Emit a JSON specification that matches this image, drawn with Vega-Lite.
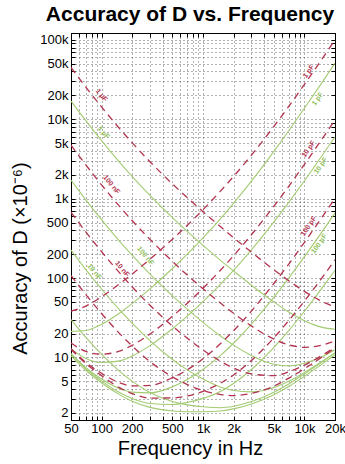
{
"$schema":"https://vega.github.io/schema/vega-lite/v6.json",
"width":264,"height":387,
"autosize":{"type":"none"},
"padding":{"left":71,"top":33,"right":10,"bottom":44},
"background":"white",
"title":{"text":"Accuracy of D vs. Frequency","fontSize":21,"font":"Liberation Sans","fontWeight":"bold","anchor":"middle","dx":-13,"offset":8,"color":"black"},
"datasets":{
"curves":[
{"c":"L1r","k":"r","f":50,"v":45000},{"c":"L1r","k":"r","f":70,"v":25400},{"c":"L1r","k":"r","f":100,"v":14300},{"c":"L1r","k":"r","f":150,"v":7670},{"c":"L1r","k":"r","f":200,"v":5070},{"c":"L1r","k":"r","f":300,"v":2920},{"c":"L1r","k":"r","f":500,"v":1530},{"c":"L1r","k":"r","f":700,"v":1030},{"c":"L1r","k":"r","f":1000,"v":685},{"c":"L1r","k":"r","f":1500,"v":439},{"c":"L1r","k":"r","f":2000,"v":323},{"c":"L1r","k":"r","f":3000,"v":212},{"c":"L1r","k":"r","f":5000,"v":127},{"c":"L1r","k":"r","f":7000,"v":92.7},{"c":"L1r","k":"r","f":10000,"v":67.9},{"c":"L1r","k":"r","f":15000,"v":50.5},{"c":"L1r","k":"r","f":20000,"v":43.3},
{"c":"L2r","k":"r","f":50,"v":4710},{"c":"L2r","k":"r","f":70,"v":2660},{"c":"L2r","k":"r","f":100,"v":1490},{"c":"L2r","k":"r","f":150,"v":804},{"c":"L2r","k":"r","f":200,"v":531},{"c":"L2r","k":"r","f":300,"v":307},{"c":"L2r","k":"r","f":500,"v":162},{"c":"L2r","k":"r","f":700,"v":109},{"c":"L2r","k":"r","f":1000,"v":73.5},{"c":"L2r","k":"r","f":1500,"v":48},{"c":"L2r","k":"r","f":2000,"v":36},{"c":"L2r","k":"r","f":3000,"v":24.9},{"c":"L2r","k":"r","f":5000,"v":17},{"c":"L2r","k":"r","f":7000,"v":14.4},{"c":"L2r","k":"r","f":10000,"v":13.4},{"c":"L2r","k":"r","f":15000,"v":14.3},{"c":"L2r","k":"r","f":20000,"v":16.2},
{"c":"L3r","k":"r","f":50,"v":673},{"c":"L3r","k":"r","f":70,"v":381},{"c":"L3r","k":"r","f":100,"v":215},{"c":"L3r","k":"r","f":150,"v":117},{"c":"L3r","k":"r","f":200,"v":77.6},{"c":"L3r","k":"r","f":300,"v":45.5},{"c":"L3r","k":"r","f":500,"v":24.9},{"c":"L3r","k":"r","f":700,"v":17.5},{"c":"L3r","k":"r","f":1000,"v":12.4},{"c":"L3r","k":"r","f":1500,"v":8.9},{"c":"L3r","k":"r","f":2000,"v":7.35},{"c":"L3r","k":"r","f":3000,"v":6.2},{"c":"L3r","k":"r","f":5000,"v":5.9},{"c":"L3r","k":"r","f":7000,"v":6.6},{"c":"L3r","k":"r","f":10000,"v":8.0},{"c":"L3r","k":"r","f":15000,"v":10.7},{"c":"L3r","k":"r","f":20000,"v":13.5},
{"c":"L4r","k":"r","f":50,"v":108},{"c":"L4r","k":"r","f":70,"v":61.9},{"c":"L4r","k":"r","f":100,"v":35.8},{"c":"L4r","k":"r","f":150,"v":20.1},{"c":"L4r","k":"r","f":200,"v":14},{"c":"L4r","k":"r","f":300,"v":8.86},{"c":"L4r","k":"r","f":500,"v":5.7},{"c":"L4r","k":"r","f":700,"v":4.55},{"c":"L4r","k":"r","f":1000,"v":3.83},{"c":"L4r","k":"r","f":1500,"v":3.41},{"c":"L4r","k":"r","f":2000,"v":3.31},{"c":"L4r","k":"r","f":3000,"v":3.53},{"c":"L4r","k":"r","f":5000,"v":4.36},{"c":"L4r","k":"r","f":7000,"v":5.48},{"c":"L4r","k":"r","f":10000,"v":7.22},{"c":"L4r","k":"r","f":15000,"v":10.2},{"c":"L4r","k":"r","f":20000,"v":13.2},
{"c":"R1r","k":"r","f":50,"v":38.2},{"c":"R1r","k":"r","f":70,"v":44.4},{"c":"R1r","k":"r","f":100,"v":58},{"c":"R1r","k":"r","f":150,"v":84.1},{"c":"R1r","k":"r","f":200,"v":112},{"c":"R1r","k":"r","f":300,"v":173},{"c":"R1r","k":"r","f":500,"v":309},{"c":"R1r","k":"r","f":700,"v":462},{"c":"R1r","k":"r","f":1000,"v":727},{"c":"R1r","k":"r","f":1500,"v":1260},{"c":"R1r","k":"r","f":2000,"v":1900},{"c":"R1r","k":"r","f":3000,"v":3530},{"c":"R1r","k":"r","f":5000,"v":8130},{"c":"R1r","k":"r","f":7000,"v":14500},{"c":"R1r","k":"r","f":10000,"v":27500},{"c":"R1r","k":"r","f":15000,"v":58100},{"c":"R1r","k":"r","f":20000,"v":100000},
{"c":"R2r","k":"r","f":50,"v":15.2},{"c":"R2r","k":"r","f":70,"v":11.9},{"c":"R2r","k":"r","f":100,"v":11.0},{"c":"R2r","k":"r","f":150,"v":12.0},{"c":"R2r","k":"r","f":200,"v":14.2},{"c":"R2r","k":"r","f":300,"v":19.7},{"c":"R2r","k":"r","f":500,"v":33},{"c":"R2r","k":"r","f":700,"v":48.2},{"c":"R2r","k":"r","f":1000,"v":74.4},{"c":"R2r","k":"r","f":1500,"v":127},{"c":"R2r","k":"r","f":2000,"v":191},{"c":"R2r","k":"r","f":3000,"v":351},{"c":"R2r","k":"r","f":5000,"v":804},{"c":"R2r","k":"r","f":7000,"v":1430},{"c":"R2r","k":"r","f":10000,"v":2710},{"c":"R2r","k":"r","f":15000,"v":5710},{"c":"R2r","k":"r","f":20000,"v":9810},
{"c":"R3r","k":"r","f":50,"v":12.9},{"c":"R3r","k":"r","f":70,"v":8.66},{"c":"R3r","k":"r","f":100,"v":6.32},{"c":"R3r","k":"r","f":150,"v":4.8},{"c":"R3r","k":"r","f":200,"v":4.39},{"c":"R3r","k":"r","f":300,"v":4.45},{"c":"R3r","k":"r","f":500,"v":5.56},{"c":"R3r","k":"r","f":700,"v":7},{"c":"R3r","k":"r","f":1000,"v":9.65},{"c":"R3r","k":"r","f":1500,"v":15.1},{"c":"R3r","k":"r","f":2000,"v":21.7},{"c":"R3r","k":"r","f":3000,"v":38.4},{"c":"R3r","k":"r","f":5000,"v":85.4},{"c":"R3r","k":"r","f":7000,"v":150},{"c":"R3r","k":"r","f":10000,"v":282},{"c":"R3r","k":"r","f":15000,"v":591},{"c":"R3r","k":"r","f":20000,"v":1010},
{"c":"R4r","k":"r","f":50,"v":12.7},{"c":"R4r","k":"r","f":70,"v":8.37},{"c":"R4r","k":"r","f":100,"v":5.9},{"c":"R4r","k":"r","f":150,"v":4.16},{"c":"R4r","k":"r","f":200,"v":3.51},{"c":"R4r","k":"r","f":300,"v":3.08},{"c":"R4r","k":"r","f":500,"v":3.09},{"c":"R4r","k":"r","f":700,"v":3.27},{"c":"R4r","k":"r","f":1000,"v":3.74},{"c":"R4r","k":"r","f":1500,"v":4.77},{"c":"R4r","k":"r","f":2000,"v":6.02},{"c":"R4r","k":"r","f":3000,"v":9.18},{"c":"R4r","k":"r","f":5000,"v":17.7},{"c":"R4r","k":"r","f":7000,"v":29.1},{"c":"R4r","k":"r","f":10000,"v":51.4},{"c":"R4r","k":"r","f":15000,"v":102},{"c":"R4r","k":"r","f":20000,"v":170},
{"c":"L1g","k":"g","f":50,"v":17000},{"c":"L1g","k":"g","f":70,"v":9600},{"c":"L1g","k":"g","f":100,"v":5380},{"c":"L1g","k":"g","f":150,"v":2890},{"c":"L1g","k":"g","f":200,"v":1910},{"c":"L1g","k":"g","f":300,"v":1100},{"c":"L1g","k":"g","f":500,"v":577},{"c":"L1g","k":"g","f":700,"v":387},{"c":"L1g","k":"g","f":1000,"v":258},{"c":"L1g","k":"g","f":1500,"v":166},{"c":"L1g","k":"g","f":2000,"v":123},{"c":"L1g","k":"g","f":3000,"v":81.2},{"c":"L1g","k":"g","f":5000,"v":49.9},{"c":"L1g","k":"g","f":7000,"v":37.3},{"c":"L1g","k":"g","f":10000,"v":29},{"c":"L1g","k":"g","f":15000,"v":23.9},{"c":"L1g","k":"g","f":20000,"v":22.7},
{"c":"L2g","k":"g","f":50,"v":1710},{"c":"L2g","k":"g","f":70,"v":966},{"c":"L2g","k":"g","f":100,"v":543},{"c":"L2g","k":"g","f":150,"v":292},{"c":"L2g","k":"g","f":200,"v":194},{"c":"L2g","k":"g","f":300,"v":112},{"c":"L2g","k":"g","f":500,"v":59.7},{"c":"L2g","k":"g","f":700,"v":40.6},{"c":"L2g","k":"g","f":1000,"v":27.7},{"c":"L2g","k":"g","f":1500,"v":18.5},{"c":"L2g","k":"g","f":2000,"v":14.3},{"c":"L2g","k":"g","f":3000,"v":10.6},{"c":"L2g","k":"g","f":5000,"v":8.2},{"c":"L2g","k":"g","f":7000,"v":7.8},{"c":"L2g","k":"g","f":10000,"v":8.45},{"c":"L2g","k":"g","f":15000,"v":10.3},{"c":"L2g","k":"g","f":20000,"v":12.5},
{"c":"L3g","k":"g","f":50,"v":225},{"c":"L3g","k":"g","f":70,"v":128},{"c":"L3g","k":"g","f":100,"v":72.8},{"c":"L3g","k":"g","f":150,"v":39.9},{"c":"L3g","k":"g","f":200,"v":27},{"c":"L3g","k":"g","f":300,"v":16.3},{"c":"L3g","k":"g","f":500,"v":9.42},{"c":"L3g","k":"g","f":700,"v":6.97},{"c":"L3g","k":"g","f":1000,"v":5.34},{"c":"L3g","k":"g","f":1500,"v":4.22},{"c":"L3g","k":"g","f":2000,"v":3.83},{"c":"L3g","k":"g","f":3000,"v":3.69},{"c":"L3g","k":"g","f":5000,"v":4.18},{"c":"L3g","k":"g","f":7000,"v":5.01},{"c":"L3g","k":"g","f":10000,"v":6.49},{"c":"L3g","k":"g","f":15000,"v":8.99},{"c":"L3g","k":"g","f":20000,"v":11.5},
{"c":"L4g","k":"g","f":50,"v":30},{"c":"L4g","k":"g","f":70,"v":17.9},{"c":"L4g","k":"g","f":100,"v":11},{"c":"L4g","k":"g","f":150,"v":6.73},{"c":"L4g","k":"g","f":200,"v":5.03},{"c":"L4g","k":"g","f":300,"v":3.62},{"c":"L4g","k":"g","f":500,"v":2.79},{"c":"L4g","k":"g","f":700,"v":2.53},{"c":"L4g","k":"g","f":1000,"v":2.39},{"c":"L4g","k":"g","f":1500,"v":2.33},{"c":"L4g","k":"g","f":2000,"v":2.43},{"c":"L4g","k":"g","f":3000,"v":2.78},{"c":"L4g","k":"g","f":5000,"v":3.65},{"c":"L4g","k":"g","f":7000,"v":4.64},{"c":"L4g","k":"g","f":10000,"v":6.23},{"c":"L4g","k":"g","f":15000,"v":8.82},{"c":"L4g","k":"g","f":20000,"v":11.4},
{"c":"R1g","k":"g","f":50,"v":21.3},{"c":"R1g","k":"g","f":70,"v":21.8},{"c":"R1g","k":"g","f":100,"v":26.2},{"c":"R1g","k":"g","f":150,"v":36.1},{"c":"R1g","k":"g","f":200,"v":47.6},{"c":"R1g","k":"g","f":300,"v":73},{"c":"R1g","k":"g","f":500,"v":132},{"c":"R1g","k":"g","f":700,"v":200},{"c":"R1g","k":"g","f":1000,"v":320},{"c":"R1g","k":"g","f":1500,"v":566},{"c":"R1g","k":"g","f":2000,"v":872},{"c":"R1g","k":"g","f":3000,"v":1660},{"c":"R1g","k":"g","f":5000,"v":3940},{"c":"R1g","k":"g","f":7000,"v":7160},{"c":"R1g","k":"g","f":10000,"v":13800},{"c":"R1g","k":"g","f":15000,"v":29400},{"c":"R1g","k":"g","f":20000,"v":51000},
{"c":"R2g","k":"g","f":50,"v":12.8},{"c":"R2g","k":"g","f":70,"v":9.7},{"c":"R2g","k":"g","f":100,"v":8.63},{"c":"R2g","k":"g","f":150,"v":9.05},{"c":"R2g","k":"g","f":200,"v":10.4},{"c":"R2g","k":"g","f":300,"v":14.1},{"c":"R2g","k":"g","f":500,"v":23},{"c":"R2g","k":"g","f":700,"v":33.1},{"c":"R2g","k":"g","f":1000,"v":50.4},{"c":"R2g","k":"g","f":1500,"v":84.5},{"c":"R2g","k":"g","f":2000,"v":125},{"c":"R2g","k":"g","f":3000,"v":227},{"c":"R2g","k":"g","f":5000,"v":510},{"c":"R2g","k":"g","f":7000,"v":899},{"c":"R2g","k":"g","f":10000,"v":1680},{"c":"R2g","k":"g","f":15000,"v":3520},{"c":"R2g","k":"g","f":20000,"v":6010},
{"c":"R3g","k":"g","f":50,"v":11.2},{"c":"R3g","k":"g","f":70,"v":7.45},{"c":"R3g","k":"g","f":100,"v":5.36},{"c":"R3g","k":"g","f":150,"v":4.06},{"c":"R3g","k":"g","f":200,"v":3.66},{"c":"R3g","k":"g","f":300,"v":3.58},{"c":"R3g","k":"g","f":500,"v":4.26},{"c":"R3g","k":"g","f":700,"v":5.26},{"c":"R3g","k":"g","f":1000,"v":7.05},{"c":"R3g","k":"g","f":1500,"v":10.7},{"c":"R3g","k":"g","f":2000,"v":15.1},{"c":"R3g","k":"g","f":3000,"v":26.3},{"c":"R3g","k":"g","f":5000,"v":57.4},{"c":"R3g","k":"g","f":7000,"v":100},{"c":"R3g","k":"g","f":10000,"v":186},{"c":"R3g","k":"g","f":15000,"v":387},{"c":"R3g","k":"g","f":20000,"v":661},
{"c":"R4g","k":"g","f":50,"v":11},{"c":"R4g","k":"g","f":70,"v":7.25},{"c":"R4g","k":"g","f":100,"v":5.07},{"c":"R4g","k":"g","f":150,"v":3.61},{"c":"R4g","k":"g","f":200,"v":3.05},{"c":"R4g","k":"g","f":300,"v":2.63},{"c":"R4g","k":"g","f":500,"v":2.56},{"c":"R4g","k":"g","f":700,"v":2.71},{"c":"R4g","k":"g","f":1000,"v":3.05},{"c":"R4g","k":"g","f":1500,"v":3.76},{"c":"R4g","k":"g","f":2000,"v":4.7},{"c":"R4g","k":"g","f":3000,"v":7.05},{"c":"R4g","k":"g","f":5000,"v":13.4},{"c":"R4g","k":"g","f":7000,"v":21.8},{"c":"R4g","k":"g","f":10000,"v":38.2},{"c":"R4g","k":"g","f":15000,"v":75.6},{"c":"R4g","k":"g","f":20000,"v":125},
{"c":"Fg","k":"g","f":50,"v":10.5},{"c":"Fg","k":"g","f":70,"v":6.9},{"c":"Fg","k":"g","f":100,"v":4.8},{"c":"Fg","k":"g","f":150,"v":3.4},{"c":"Fg","k":"g","f":200,"v":2.8},{"c":"Fg","k":"g","f":300,"v":2.35},{"c":"Fg","k":"g","f":500,"v":2.12},{"c":"Fg","k":"g","f":700,"v":2.07},{"c":"Fg","k":"g","f":1000,"v":2.07},{"c":"Fg","k":"g","f":1500,"v":2.12},{"c":"Fg","k":"g","f":2000,"v":2.25},{"c":"Fg","k":"g","f":3000,"v":2.6},{"c":"Fg","k":"g","f":5000,"v":3.4},{"c":"Fg","k":"g","f":7000,"v":4.3},{"c":"Fg","k":"g","f":10000,"v":5.8},{"c":"Fg","k":"g","f":15000,"v":8.3},{"c":"Fg","k":"g","f":20000,"v":10.8}
],
"labels":[
{"t":"1 µF","k":"r","s":"L","f":100,"v":20000},
{"t":"1 µF","k":"g","s":"L","f":105,"v":6800},
{"t":"100 nF","k":"r","s":"L","f":125,"v":1500},
{"t":"100 nF","k":"g","s":"L","f":270,"v":190},
{"t":"10 nF","k":"r","s":"L","f":160,"v":130},
{"t":"10 nF","k":"g","s":"L","f":85,"v":120},
{"t":"1 pF","k":"r","s":"R","f":11000,"v":40000},
{"t":"1 pF","k":"g","s":"R","f":13500,"v":18000},
{"t":"10 pF","k":"r","s":"R","f":11000,"v":4200},
{"t":"10 pF","k":"g","s":"R","f":14500,"v":2600},
{"t":"100 pF","k":"r","s":"R","f":11000,"v":450},
{"t":"100 pF","k":"g","s":"R","f":14000,"v":270}
]
},
"layer":[
{"data":{"name":"curves"},"transform":[{"filter":"datum.k==='g'"}],
 "mark":{"type":"line","strokeWidth":1.1,"color":"#a3cb72","interpolate":"monotone","clip":true},
 "encoding":{
  "x":{"field":"f","type":"quantitative","scale":{"type":"log","domain":[50,20000],"nice":false},
   "axis":{"orient":"top","values":[50,60,70,80,90,100,200,300,400,500,600,700,800,900,1000,2000,3000,4000,5000,6000,7000,8000,9000,10000,20000],"labels":false,"grid":false,"title":null,"tickSize":-4,"domainColor":"black","tickColor":"black"}},
  "y":{"field":"v","type":"quantitative","scale":{"type":"log","domain":[1.63,122000],"nice":false},
   "axis":{"orient":"right","values":[2,3,4,5,6,7,8,9,10,20,30,40,50,60,70,80,90,100,200,300,400,500,600,700,800,900,1000,2000,3000,4000,5000,6000,7000,8000,9000,10000,20000,30000,40000,50000,60000,70000,80000,90000,100000],"labels":false,"grid":false,"title":null,"tickSize":-4,"domainColor":"black","tickColor":"black"}},
  "detail":{"field":"c"}}},
{"data":{"name":"curves"},"transform":[{"filter":"datum.k==='r'"}],
 "mark":{"type":"line","strokeWidth":1.3,"strokeDash":[7,5],"color":"#b2334f","interpolate":"monotone","clip":true},
 "encoding":{
  "x":{"field":"f","type":"quantitative","scale":{"type":"log","domain":[50,20000],"nice":false},
   "axis":{"orient":"bottom","values":[50,60,70,80,90,100,200,300,400,500,600,700,800,900,1000,2000,3000,4000,5000,6000,7000,8000,9000,10000,20000],
    "labelExpr":"indexof([50,100,200,500,1000,2000,5000,10000,20000], datum.value) >= 0 ? (datum.value >= 1000 ? (datum.value/1000) + 'k' : '' + datum.value) : ''",
    "labelOverlap":false,"labelFlush":false,"labelFontSize":13,"labelFont":"Liberation Sans","labelColor":"black","labelPadding":6,
    "grid":true,"gridDash":[1,3],"gridColor":"#222","gridOpacity":0.7,
    "tickSize":-4,"tickColor":"black","domainColor":"black",
    "title":"Frequency in Hz","titleFontSize":20,"titleFont":"Liberation Sans","titleFontWeight":"normal","titleColor":"black","titleX":119,"titleY":34,"titleBaseline":"alphabetic","titleAlign":"center"}},
  "y":{"field":"v","type":"quantitative","scale":{"type":"log","domain":[1.63,122000],"nice":false},
   "axis":{"orient":"left","values":[2,3,4,5,6,7,8,9,10,20,30,40,50,60,70,80,90,100,200,300,400,500,600,700,800,900,1000,2000,3000,4000,5000,6000,7000,8000,9000,10000,20000,30000,40000,50000,60000,70000,80000,90000,100000],
    "labelExpr":"indexof([2,5,10,20,50,100,200,500,1000,2000,5000,10000,20000,50000,100000], datum.value) >= 0 ? (datum.value >= 1000 ? (datum.value/1000) + 'k' : '' + datum.value) : ''",
    "labelOverlap":false,"labelFlush":false,"labelFontSize":13,"labelFont":"Liberation Sans","labelColor":"black","labelPadding":7,
    "grid":true,"gridDash":[1,3],"gridColor":"#222","gridOpacity":0.7,
    "tickSize":-4,"tickColor":"black","domainColor":"black",
    "title":"Accuracy of D (×10⁻⁶)","titleFontSize":20,"titleFont":"Liberation Sans","titleFontWeight":"normal","titleColor":"black","titleAngle":-90,"titleX":-45,"titleY":225,"titleBaseline":"alphabetic","titleAlign":"center"}},
  "detail":{"field":"c"}}},
{"data":{"name":"labels"},"transform":[{"filter":"datum.s==='L'"}],
 "mark":{"type":"text","angle":50,"fontSize":7,"font":"Liberation Sans","fontWeight":"bold"},
 "encoding":{
  "x":{"field":"f","type":"quantitative","scale":{"type":"log","domain":[50,20000],"nice":false},"axis":null},
  "y":{"field":"v","type":"quantitative","scale":{"type":"log","domain":[1.63,122000],"nice":false},"axis":null},
  "text":{"field":"t"},
  "color":{"field":"k","type":"nominal","scale":{"domain":["r","g"],"range":["#b2334f","#8fbf5a"]},"legend":null}}},
{"data":{"name":"labels"},"transform":[{"filter":"datum.s==='R'"}],
 "mark":{"type":"text","angle":-55,"fontSize":7,"font":"Liberation Sans","fontWeight":"bold"},
 "encoding":{
  "x":{"field":"f","type":"quantitative","scale":{"type":"log","domain":[50,20000],"nice":false},"axis":null},
  "y":{"field":"v","type":"quantitative","scale":{"type":"log","domain":[1.63,122000],"nice":false},"axis":null},
  "text":{"field":"t"},
  "color":{"field":"k","type":"nominal","scale":{"domain":["r","g"],"range":["#b2334f","#8fbf5a"]},"legend":null}}}
],
"resolve":{"axis":{"x":"independent","y":"independent"}},
"config":{"view":{"stroke":"black","strokeWidth":1},"axis":{"labelFont":"Liberation Sans"}}
}
